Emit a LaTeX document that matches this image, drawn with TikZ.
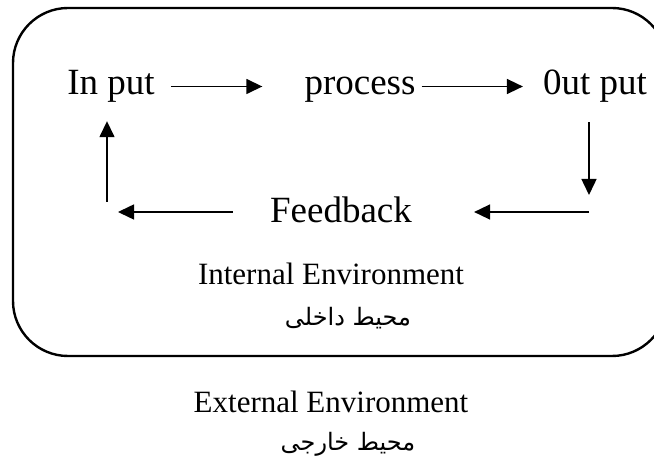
\documentclass[tikz,border=0pt]{standalone}
\usepackage{fontspec}
\setmainfont{Liberation Serif}
\newfontfamily\arabicfont[Script=Arabic]{DejaVu Sans}
\TeXXeTstate=1
\usetikzlibrary{arrows.meta}
\tikzstyle{word} = [inner sep=0pt, anchor=base, text height=25pt, text depth=8pt, font=\fontsize{37}{40}\selectfont]
\tikzstyle{envtext} = [inner sep=0pt, anchor=base, font=\fontsize{31}{34}\selectfont]
\tikzstyle{arabtext} = [inner sep=0pt, anchor=base, font=\arabicfont\fontsize{24}{27}\selectfont]
\tikzstyle{arrow} = [line width=1.5pt, -{Triangle[length=16pt, width=15pt]}]
\tikzstyle{envbox} = [line width=2.4pt, rounded corners=55pt]

\begin{document}
\begin{tikzpicture}[x=1pt, y=-1pt]
            \useasboundingbox (0,0) rectangle (654,462);
            \draw[envbox] (13,8) rectangle (667,356);
            \node(input) [word] at (111,95) {In put};
            \node(process) [word] at (360,95) {process};
            \node(output) [word] at (595,95) {0ut put};
            \node(feedback) [word] at (341,223) {Feedback};
            \node(internal) [envtext] at (331,285) {Internal Environment};
            \node(inarabic) [arabtext] at (348,326) {\beginR محيط داخلى\endR};
            \node(external) [envtext] at (331,413) {External Environment};
            \node(exarabic) [arabtext] at (348,451) {\beginR محيط خارجى\endR};
            \coordinate(loopR) at (589,212);
            \coordinate(loopL) at (107,212);
            \draw[arrow, shorten <=16pt, shorten >=42pt] (input) -- (process);
            \draw[arrow, shorten <=6pt, shorten >=20pt] (process) -- (output);
            \draw[arrow, shorten <=19pt, shorten >=17pt] (output.south -| loopR) -- (loopR);
            \draw[arrow, shorten >=62pt] (loopR) -- (loopR -| feedback.east);
            \draw[arrow, shorten <=37pt, shorten >=11pt] (loopL -| feedback.west) -- (loopL);
            \draw[arrow, shorten <=10pt, shorten >=18pt] (loopL) -- (loopL |- input.south);
        \end{tikzpicture}
\end{document}
